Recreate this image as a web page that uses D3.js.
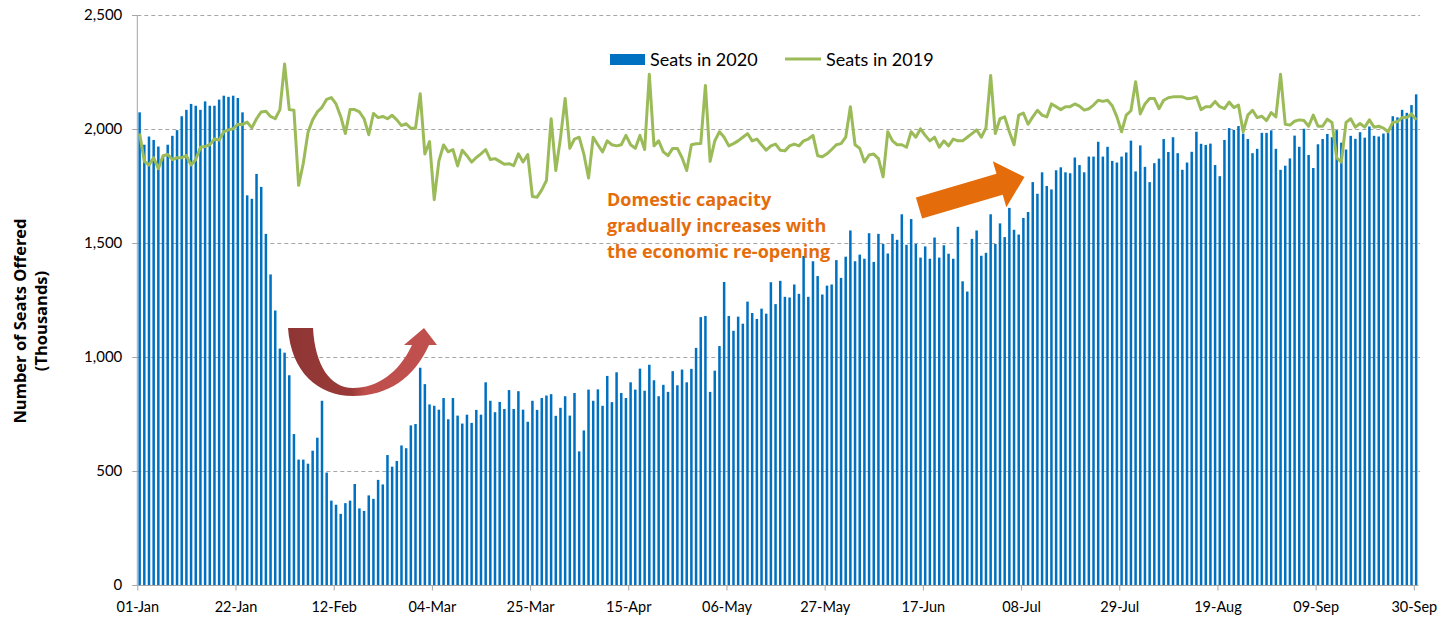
<!DOCTYPE html>
<html>
<head>
<meta charset="utf-8">
<script src="https://cdn.jsdelivr.net/npm/d3@7"></script>
<style>
html,body{margin:0;padding:0;background:#fff;}
svg{display:block;}
text{font-family:Lato,"Open Sans",sans-serif;}
</style>
</head>
<body>
<svg id="chart" width="1449" height="619"></svg>
<script>
// ---------- data ----------
const startDate = "2020-01-01";
const tickLabels = ["01-Jan","22-Jan","12-Feb","04-Mar","25-Mar","15-Apr","06-May","27-May","17-Jun","08-Jul","29-Jul","19-Aug","09-Sep","30-Sep"];
const yTicks = [0,500,1000,1500,2000,2500];
const seriesNames = ["Seats in 2020","Seats in 2019"];
const seats2020 = [
2073,1931,1967,1952,1923,1880,1931,1970,1995,2056,
2084,2110,2102,2084,2121,2102,2102,2129,2146,2141,
2146,2136,2073,1709,1694,1803,1746,1540,1362,1204,
1037,1019,920,662,550,550,532,589,646,808,
493,370,352,312,359,370,443,336,325,393,
378,461,441,570,519,544,612,600,700,706,
953,881,792,786,769,820,727,820,743,708,
747,711,768,747,889,808,758,803,772,855,
772,850,769,716,808,768,820,831,837,742,
777,828,743,842,586,678,857,808,858,786,
917,802,933,842,820,889,857,949,852,966,
898,828,878,847,938,876,945,889,948,1040,
1175,1180,847,940,1048,1329,1180,1115,1177,1146,
1243,1193,1167,1212,1190,1328,1232,1334,1264,1261,
1318,1277,1443,1264,1420,1355,1274,1313,1318,1425,
1347,1440,1555,1420,1449,1431,1543,1417,1540,1496,
1454,1540,1514,1626,1492,1605,1496,1436,1485,1431,
1524,1436,1490,1453,1431,1571,1332,1287,1518,1555,
1444,1457,1626,1496,1586,1526,1654,1558,1537,1610,
1636,1767,1716,1810,1750,1735,1819,1832,1810,1806,
1875,1842,1810,1879,1879,1944,1879,1922,1860,1853,
1879,1897,1949,1814,1928,1834,1767,1850,1870,1956,
1899,1964,1894,1821,1853,1900,1988,1935,1930,1936,
1842,1793,1952,2004,1996,2013,1980,1956,1894,1913,
1983,1983,1994,1913,1821,1839,1871,1971,1922,2001,
1886,1829,1933,1956,1978,1964,1995,1940,1910,1970,
1957,1986,1962,2011,1970,1967,1980,1985,2056,2051,
2084,2071,2105,2152
];
const seats2019 = [
1980,1858,1842,1874,1826,1883,1888,1866,1874,1874,
1883,1842,1866,1920,1923,1931,1956,1952,1988,1996,
2001,2021,2020,2030,2005,2045,2075,2078,2055,2045,
2085,2285,2085,2082,1753,1850,1985,2040,2075,2095,
2130,2138,2110,2055,1980,2085,2085,2075,2045,1975,
2068,2050,2055,2045,2060,2040,2015,2023,2003,2003,
2155,1890,1945,1690,1860,1930,1900,1910,1838,1907,
1883,1855,1875,1891,1910,1866,1870,1858,1845,1848,
1839,1891,1855,1888,1704,1701,1733,1774,2045,1818,
1960,2134,1915,1956,1964,1890,1785,1964,1931,1899,
1948,1931,1926,1931,1972,1931,1915,1972,1910,2240,
1926,1948,1900,1883,1915,1915,1874,1818,1931,1935,
1936,2191,1858,1948,1988,1964,1926,1936,1948,1964,
1980,1948,1956,1931,1907,1926,1934,1907,1904,1926,
1934,1926,1948,1956,1972,1883,1878,1891,1910,1931,
1936,1964,2098,1931,1915,1855,1886,1890,1870,1790,
1988,1948,1931,1931,1920,1988,1964,2001,1972,1948,
1964,1920,1948,1926,1956,1948,1948,1964,1980,1996,
1964,2005,2235,1980,2045,2053,1988,1931,2061,2070,
2021,2053,2082,2061,2053,2110,2098,2085,2098,2098,
2110,2100,2083,2089,2105,2126,2121,2126,2102,2053,
1988,2061,2080,2207,2066,2110,2134,2134,2089,2126,
2137,2141,2141,2141,2133,2135,2141,2085,2098,2098,
2121,2098,2089,2118,2094,2105,1988,2061,2082,2050,
2056,2037,2072,2053,2240,2021,2017,2034,2040,2037,
2012,2061,2012,2012,2043,2029,1874,1855,2029,2045,
2008,2024,2008,2040,2008,2012,2004,1988,2029,2032,
2050,2050,2066,2040
];
const annotationLines = ["Domestic capacity","gradually increases with","the economic re-opening"];
const yTitle = ["Number of Seats Offered","(Thousands)"];

// ---------- chart ----------
const svg = d3.select("#chart");
const nDays = seats2020.length;
const x = d3.scaleLinear().domain([0, nDays]).range([137.3, 1418.5]);
const y = d3.scaleLinear().domain([0, 2500]).range([585, 15]);
const dayCenter = d => x(d + 0.5);

// gridlines
svg.append("g").selectAll("line").data(yTicks.filter(v => v > 0)).join("line")
  .attr("x1", x(0)).attr("x2", 1420)
  .attr("y1", d => Math.round(y(d)) + 0.5).attr("y2", d => Math.round(y(d)) + 0.5)
  .attr("stroke", "#A6A6A6").attr("stroke-width", 1).attr("stroke-dasharray", "4,3");

// bars
const barW = 2.5;
svg.append("g").selectAll("rect").data(seats2020).join("rect")
  .attr("x", (d, i) => dayCenter(i) - barW / 2)
  .attr("width", barW)
  .attr("y", d => y(d))
  .attr("height", d => y(0) - y(d))
  .attr("fill", "#0070C0");

// 2019 line
const line = d3.line().x((d, i) => dayCenter(i)).y(d => y(d)).curve(d3.curveLinear);
svg.append("path").datum(seats2019)
  .attr("d", line).attr("fill", "none")
  .attr("stroke", "#9BBB59").attr("stroke-width", 3).attr("stroke-linejoin", "round");

// axes
const yAxis = d3.axisLeft(y).tickValues(yTicks).tickSize(5).tickFormat(d3.format(","));
const gy = svg.append("g").attr("transform", `translate(${x(0)},0)`).call(yAxis);
gy.select(".domain").attr("stroke", "#A6A6A6").attr("d", `M-5,15.5H0V585.5`);
gy.selectAll(".tick line").attr("stroke", "#A6A6A6");
gy.selectAll(".tick text").attr("x", -15).attr("font-size", 15).attr("fill", "#000")
  .style("font-family", "Lato, 'Open Sans', sans-serif");

const tickDays = tickLabels.map((t, i) => i * 21);
const xAxis = d3.axisBottom(x).tickValues(tickDays).tickSize(5).tickFormat((d, i) => tickLabels[i]);
const gx = svg.append("g").attr("transform", `translate(0,${Math.round(y(0)) + 0.5})`).call(xAxis);
gx.select(".domain").attr("stroke", "#A6A6A6").attr("d", `M${x(0)},0H${x(nDays)}`);
gx.selectAll(".tick line").attr("stroke", "#A6A6A6");
gx.selectAll(".tick text").attr("y", 16).attr("font-size", 14.5).attr("fill", "#000")
  .style("font-family", "Lato, 'Open Sans', sans-serif");

// y title
const yt = svg.append("g");
yTitle.forEach((t, i) => {
  yt.append("text")
    .attr("transform", `translate(${26 + i * 21},321) rotate(-90)`)
    .attr("text-anchor", "middle").attr("font-size", 16.5).attr("font-weight", "bold")
    .style("font-family", "'Open Sans', Lato, sans-serif")
    .attr("fill", "#000").text(t);
});

// legend
const lg = svg.append("g");
lg.append("rect").attr("x", 610).attr("y", 54).attr("width", 35).attr("height", 11).attr("fill", "#0070C0");
lg.append("text").attr("x", 650).attr("y", 65.5).attr("font-size", 18).attr("fill", "#000").text(seriesNames[0]);
lg.append("line").attr("x1", 785).attr("x2", 821).attr("y1", 59).attr("y2", 59)
  .attr("stroke", "#9BBB59").attr("stroke-width", 3);
lg.append("text").attr("x", 826).attr("y", 65.5).attr("font-size", 18).attr("fill", "#000").text(seriesNames[1]);

// annotation text
annotationLines.forEach((t, i) => {
  svg.append("text").attr("x", 607).attr("y", 206 + i * 26)
    .attr("font-size", 18).attr("font-weight", "bold")
    .style("font-family", "'Open Sans', Lato, sans-serif")
    .attr("fill", "#E46C0A").text(t);
});

// red curved arrow
const defs = svg.append("defs");
const grad = defs.append("linearGradient").attr("id", "redGrad")
  .attr("x1", "0%").attr("x2", "100%").attr("y1", "0%").attr("y2", "0%");
grad.append("stop").attr("offset", "0%").attr("stop-color", "#8E3634");
grad.append("stop").attr("offset", "42%").attr("stop-color", "#9A3A38");
grad.append("stop").attr("offset", "52%").attr("stop-color", "#BE4F4C");
grad.append("stop").attr("offset", "100%").attr("stop-color", "#C0504D");
svg.append("path")
  .attr("d", "M288,328 C291,372 318,396 353,396 C388,396 414,378 429,345 L437,345 L424,328 L404,345 L412,345 C399,373 377,388 353,388 C330,388 315,365 313,328 Z")
  .attr("fill", "url(#redGrad)");

// orange block arrow
const ax = 919, ay = 208, ang = -16.4;
svg.append("path")
  .attr("transform", `translate(${ax},${ay}) rotate(${ang})`)
  .attr("d", "M0,-11 L84,-11 L84,-24 L110,0 L84,24 L84,11 L0,11 Z")
  .attr("fill", "#E46C0A");
</script>
</body>
</html>
